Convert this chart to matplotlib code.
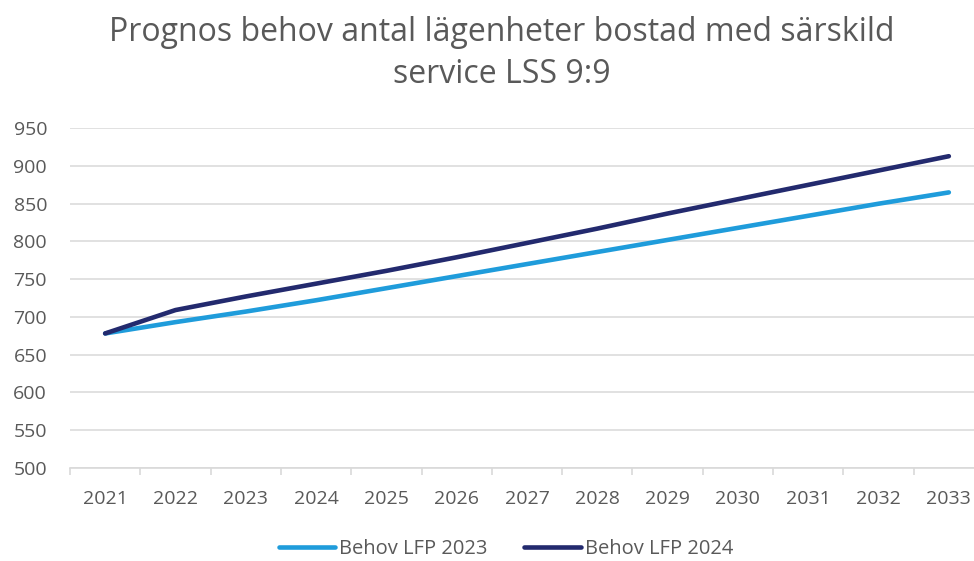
import matplotlib
matplotlib.use("Agg")
import matplotlib.pyplot as plt
import numpy as np

years = ["2021", "2022", "2023", "2024", "2025", "2026", "2027",
         "2028", "2029", "2030", "2031", "2032", "2033"]
behov_2023 = [678, 693, 707, 722, 738, 754, 770, 786, 802, 818, 834, 850, 865]
behov_2024 = [678, 709, 727, 744, 761, 779, 798, 817, 837, 856, 875, 894, 913]
series_labels = ["Behov LFP 2023", "Behov LFP 2024"]
title = "Prognos behov antal lägenheter bostad med särskild\nservice LSS 9:9"
y_ticks = [500, 550, 600, 650, 700, 750, 800, 850, 900, 950]

plt.rcParams['font.family'] = ['Open Sans', 'DejaVu Sans']
text_col = '#595959'
grid_col = '#D9D9D9'

W, H = 974, 561
fig = plt.figure(figsize=(W / 100, H / 100), dpi=100)
ax = fig.add_axes([70 / W, 1 - 467.7 / H, (984 - 70) / W, (467.7 - 128.3) / H])

x = np.arange(len(years))
ax.plot(x, behov_2023, color='#1F9CDB', lw=3.3, solid_capstyle='round',
        solid_joinstyle='round', label=series_labels[0], zorder=3)
ax.plot(x, behov_2024, color='#232A6E', lw=3.3, solid_capstyle='round',
        solid_joinstyle='round', label=series_labels[1], zorder=4)

ax.set_xlim(-0.5, len(years) - 0.5)
ax.set_ylim(500, 950)
ax.set_yticks(y_ticks)
ax.set_xticks(x)
ax.set_xticklabels(years)
ax.set_xticks(np.arange(-0.5, len(years) + 0.5, 1), minor=True)
ax.tick_params(axis='x', which='major', length=0, pad=16, labelsize=14, labelcolor=text_col)
ax.tick_params(axis='x', which='minor', length=5, width=1.2, color=grid_col)
ax.tick_params(axis='y', length=0, pad=16.5, labelsize=14, labelcolor=text_col)

ax.grid(axis='y', color=grid_col, lw=1.1, zorder=0)
ax.set_axisbelow(True)
for s in ['top', 'right', 'left']:
    ax.spines[s].set_visible(False)
ax.spines['bottom'].set_color(grid_col)
ax.spines['bottom'].set_linewidth(1.2)

fig.text(502 / W, 1 - 53.5 / H, title, ha='center', va='center', fontsize=23,
         color=text_col, linespacing=1.38)

leg = fig.legend(loc='center', bbox_to_anchor=(506 / W, 1 - 549 / H), ncol=2,
                 frameon=False, fontsize=14.5, handlelength=2.8, handletextpad=0.2,
                 columnspacing=1.8, labelcolor=text_col)

fig.savefig("out.png", dpi=100)
